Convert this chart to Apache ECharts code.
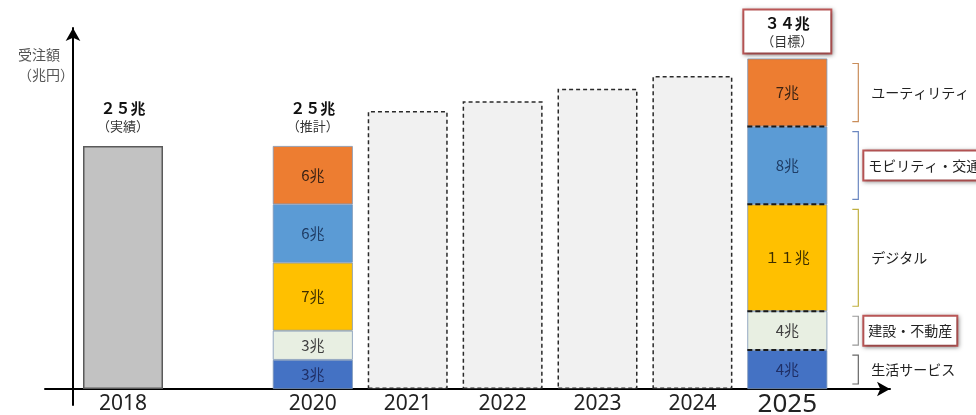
<!DOCTYPE html>
<html>
<head>
<meta charset="utf-8">
<script src="https://cdn.jsdelivr.net/npm/echarts@6/dist/echarts.min.js"></script>
<style>
  html, body { margin: 0; padding: 0; background: #fff; }
  #chart { width: 976px; height: 415px; }
</style>
</head>
<body>
<div id="chart"></div>
<script>
// ---- data ----
const years = [2018, 2020, 2021, 2022, 2023, 2024, 2025];
const yearLabels = ['2018', '2020', '2021', '2022', '2023', '2024', '2025'];
const actual = [25, null, null, null, null, null, null];           // 実績
const forecast = [null, null, 28.6, 29.6, 30.9, 32.2, null];       // 推移（点線）
const segNames = ['生活サービス', '建設・不動産', 'デジタル', 'モビリティ・交通', 'ユーティリティ'];
const lifeService = [null, 3, null, null, null, null, 4];
const construction = [null, 3, null, null, null, null, 4];
const digital = [null, 7, null, null, null, null, 11];
const mobility = [null, 6, null, null, null, null, 8];
const utility = [null, 6, null, null, null, null, 7];
const totalNotes = ['実績', '推計', null, null, null, null, '目標'];
const axisTitle = '受注額\n（兆円）';

// ---- styles ----
const FONT = '"Noto Sans CJK JP", "Noto Sans", sans-serif';
const segData = [lifeService, construction, digital, mobility, utility];
const segColors = ['#4472c4', '#e8efe2', '#ffc000', '#5b9bd5', '#ed7d31'];
const segLabelColors = ['#1f2f66', '#404040', '#3d2e00', '#1f3d66', '#3b2314'];
const bracketColors = ['#666666', '#999999', '#c0b040', '#6b87c0', '#c98d5a'];
const boxed = [false, true, false, true, false];

const toFW = s => String(s).replace(/[0-9]/g, d => String.fromCharCode(d.charCodeAt(0) + 0xFEE0));
const fmtVal = v => (v >= 10 ? toFW(v) : String(v)) + '兆';

const totals = years.map((y, i) => {
  let t = actual[i] || 0;
  segData.forEach(a => { t += a[i] || 0; });
  return t;
});

const BAR_W = 80;
// data items are [value, year]; encode maps year -> x so that the value is the stacked dimension
const pairs = arr => years.map((y, i) => [arr[i] == null ? null : arr[i], y]);
const ENC = { x: 1, y: 0 };
const series = [];

series.push({
  name: '実績', type: 'bar', stack: 'total', barWidth: BAR_W, encode: ENC,
  data: pairs(actual),
  itemStyle: { color: '#c2c2c2', borderColor: '#5a5a5a', borderWidth: 1.5 }
});

series.push({
  name: '見込み', type: 'bar', stack: 'total', barWidth: BAR_W, encode: ENC,
  data: pairs(forecast),
  itemStyle: { color: '#f1f1f1', borderColor: '#2a2a2a', borderWidth: 1.5, borderType: [4, 3] }
});

segNames.forEach((name, k) => {
  series.push({
    name, type: 'bar', stack: 'total', barWidth: BAR_W, encode: ENC,
    data: pairs(segData[k]),
    itemStyle: { color: segColors[k], borderColor: '#7f97b8', borderWidth: 0.8 },
    label: {
      show: true, position: 'inside', fontFamily: FONT, fontSize: 15,
      color: segLabelColors[k],
      formatter: p => fmtVal(p.value[0])
    }
  });
});

// total labels (zero-height bar on top of the stack)
const lastIdx = years.length - 1;
series.push({
  name: '合計', type: 'bar', stack: 'total', barWidth: BAR_W, encode: ENC,
  itemStyle: { color: 'transparent' },
  data: years.map((y, i) => {
    if (!totalNotes[i]) return [null, y];
    const item = { value: [0, y] };
    if (i === lastIdx) {
      item.label = {
        backgroundColor: '#ffffff', borderColor: '#c25a5a', borderWidth: 2,
        padding: [3, 17], distance: 6,
        shadowBlur: 4, shadowColor: 'rgba(0,0,0,0.35)', shadowOffsetX: 1, shadowOffsetY: 1
      };
    }
    return item;
  }),
  label: {
    show: true, position: 'top', distance: 11,
    formatter: p => {
      const i = p.dataIndex;
      return '{a|' + toFW(totals[i]) + '兆}\n{b|（' + totalNotes[i] + '）}';
    },
    rich: {
      a: { fontFamily: FONT, fontSize: 15, fontWeight: 'bold', color: '#111', lineHeight: 19, align: 'center' },
      b: { fontFamily: FONT, fontSize: 13, color: '#333', lineHeight: 17, align: 'center' }
    }
  }
});

// brackets + category names + dashed separators for the 2025 bar
const bracketData = [];
let acc = 0;
segData.forEach((arr, k) => {
  const v = arr[lastIdx];
  bracketData.push([years[lastIdx], acc, acc + v, k]);
  acc += v;
});

series.push({
  name: '内訳', type: 'custom', z: 10, clip: false,
  encode: { x: 0, y: [1, 2] },
  data: bracketData,
  renderItem: (params, api) => {
    const x = api.value(0), y0 = api.value(1), y1 = api.value(2), k = api.value(3);
    const pBot = api.coord([x, y0]);
    const pTop = api.coord([x, y1]);
    const bx = pBot[0] + BAR_W / 2 + 31;
    const top = pTop[1] + 5, bot = pBot[1] - 5;
    const midY = (pTop[1] + pBot[1]) / 2;
    const children = [{
      type: 'polyline',
      shape: { points: [[bx - 6, top], [bx, top], [bx, bot], [bx - 6, bot]] },
      style: { stroke: bracketColors[k], lineWidth: 1.2, fill: null }
    }];
    const textStyle = {
      text: segNames[k], x: bx + (boxed[k] ? 6 : 13), y: midY,
      align: 'left', verticalAlign: 'middle',
      fill: '#222', font: '14px ' + FONT
    };
    if (boxed[k]) {
      Object.assign(textStyle, {
        backgroundColor: '#ffffff', borderColor: '#c25a5a', borderWidth: 2,
        padding: [7, 4], shadowBlur: 4, shadowColor: 'rgba(0,0,0,0.35)',
        shadowOffsetX: 1, shadowOffsetY: 1
      });
    }
    children.push({ type: 'text', style: textStyle });
    if (y0 > 0) {
      children.push({
        type: 'line',
        shape: { x1: pBot[0] - BAR_W / 2, y1: pBot[1], x2: pBot[0] + BAR_W / 2, y2: pBot[1] },
        style: { stroke: '#1a1a1a', lineWidth: 2, lineDash: [5, 3] }
      });
    }
    return { type: 'group', children };
  }
});

const chart = echarts.init(document.getElementById('chart'), null, { renderer: 'canvas' });
chart.setOption({
  animation: false,
  textStyle: { fontFamily: FONT },
  title: {
    text: axisTitle, left: 13, top: 40,
    textStyle: { fontFamily: FONT, fontSize: 14, fontWeight: 'normal', color: '#555', lineHeight: 20 }
  },
  grid: { left: 45, right: 86, top: 28, bottom: 10, containLabel: false, outerBoundsMode: 'none' },
  xAxis: {
    type: 'value', min: 2017.178, max: 2026.082,
    splitLine: { show: false },
    axisTick: { show: false },
    axisLine: {
      show: true, onZero: true, symbol: ['none', 'arrow'], symbolSize: [11, 13],
      lineStyle: { color: '#000', width: 2 }
    },
    axisLabel: {
      customValues: years, margin: -11,
      fontFamily: '"Noto Sans", sans-serif', fontSize: 21, color: '#222',
      formatter: v => {
        const i = years.indexOf(Math.round(v));
        if (i < 0) return '';
        return i === lastIdx ? '{big|' + yearLabels[i] + '}' : yearLabels[i];
      },
      rich: { big: { fontFamily: '"Noto Sans", sans-serif', fontSize: 26, lineHeight: 22, color: '#222' } }
    }
  },
  yAxis: {
    type: 'value', min: -1.646, max: 37.14, offset: -28,
    splitLine: { show: false },
    axisTick: { show: false },
    axisLabel: { show: false },
    axisLine: {
      show: true, onZero: false, symbol: ['none', 'arrow'], symbolSize: [11, 13],
      lineStyle: { color: '#000', width: 2 }
    }
  },
  series
});
</script>
</body>
</html>
